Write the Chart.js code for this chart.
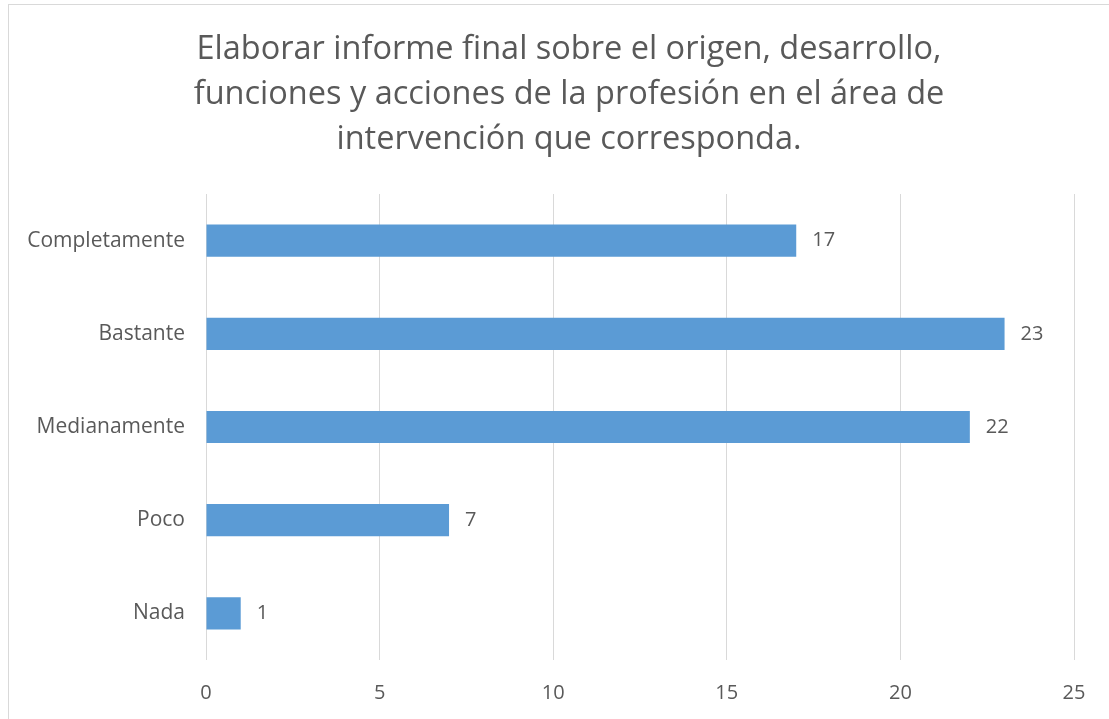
<!DOCTYPE html>
<html>
<head>
<meta charset="utf-8">
<script src="https://cdn.jsdelivr.net/npm/chart.js@4/dist/chart.umd.min.js"></script>
<style>
  html, body { margin: 0; padding: 0; background: #fff; }
  #wrap { position: relative; width: 1109px; height: 719px; }
  #frame { position: absolute; left: 8px; top: 4px; width: 1110px; height: 730px; border: 1px solid #d9d9d9; box-sizing: border-box; }
  canvas { position: absolute; left: 0; top: 0; }
</style>
</head>
<body>
<div id="wrap">
  <div id="frame"></div>
  <canvas id="myChart" width="1109" height="719"></canvas>
</div>
<script>
const titleLines = [
  'Elaborar informe final sobre el origen, desarrollo,',
  'funciones y acciones de la profesión en el área de',
  'intervención que corresponda.',
];
const categories = ['Completamente', 'Bastante', 'Medianamente', 'Poco', 'Nada'];
const values = [17, 23, 22, 7, 1];
const xTicks = [0, 5, 10, 15, 20, 25];

const textColor = '#595959';
const fontFamily = '"Open Sans", Lato, sans-serif';

// title centred over the whole frame, not just the canvas box
const chartTitle = {
  id: 'chartTitle',
  afterDraw(chart) {
    const { ctx } = chart;
    ctx.save();
    ctx.fillStyle = textColor;
    ctx.font = `32.5px ${fontFamily}`;
    ctx.textAlign = 'center';
    ctx.textBaseline = 'middle';
    titleLines.forEach((line, i) => {
      ctx.fillText(line, 569, 50 + i * 45);
    });
    ctx.restore();
  },
};

// value labels at the end of each bar
const barLabels = {
  id: 'barLabels',
  afterDatasetsDraw(chart) {
    const { ctx } = chart;
    const meta = chart.getDatasetMeta(0);
    ctx.save();
    ctx.fillStyle = textColor;
    ctx.font = `20px ${fontFamily}`;
    ctx.textAlign = 'left';
    ctx.textBaseline = 'middle';
    meta.data.forEach((bar, i) => {
      ctx.fillText(String(values[i]), bar.x + 16, bar.y);
    });
    ctx.restore();
  },
};

const chart = new Chart('myChart', {
  type: 'bar',
  data: {
    labels: categories,
    datasets: [
      {
        data: values,
        backgroundColor: '#5b9bd5',
        borderWidth: 0,
        barPercentage: 0.69,
        categoryPercentage: 0.5,
      },
    ],
  },
  options: {
    indexAxis: 'y',
    responsive: false,
    animation: false,
    layout: { padding: { top: 194, right: 35, bottom: 0, left: 0 } },
    plugins: {
      legend: { display: false },
      tooltip: { enabled: false },
      title: { display: false },
    },
    scales: {
      x: {
        min: 0,
        max: 25,
        afterBuildTicks: (scale) => {
          scale.ticks = xTicks.map((v) => ({ value: v }));
        },
        afterFit: (scale) => {
          scale.height = 59;
        },
        grid: { color: '#d9d9d9', lineWidth: 1, drawTicks: false },
        border: { display: false },
        ticks: { color: textColor, font: { family: fontFamily, size: 20 }, padding: 21 },
      },
      y: {
        afterFit: (scale) => {
          scale.width = 206;
        },
        grid: { display: false },
        border: { display: false },
        ticks: { color: textColor, font: { family: fontFamily, size: 21 }, padding: 13 },
      },
    },
  },
  plugins: [barLabels, chartTitle],
});
</script>
</body>
</html>
